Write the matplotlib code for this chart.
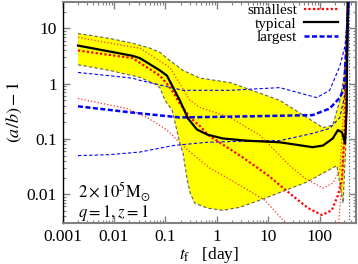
import numpy as np
import matplotlib
matplotlib.use("Agg")
import matplotlib.pyplot as plt
from matplotlib.ticker import FixedLocator, NullFormatter

plt.rcParams['font.family'] = ['Liberation Serif', 'DejaVu Serif']
plt.rcParams['mathtext.fontset'] = 'stix'

# yellow band (typical range), upper and lower edges
band_hi_t = [0.002, 0.0083, 0.023, 0.05, 0.078, 0.123, 0.22, 0.47, 1.8, 16.6, 115, 178, 245, 295, 331, 363]
band_hi_y = [8.1, 6.6, 5.4, 4.4, 3.7, 2.6, 1.74, 1.26, 1.05, 0.50, 0.16, 0.178, 0.50, 1.4, 6.0, 40]
band_lo_t = [0.002, 0.0083, 0.032, 0.063, 0.078, 0.098, 0.135, 0.166, 0.19, 0.22, 0.26, 0.30,
             0.37, 0.65, 1.3, 2.8, 6.8, 16.6, 56, 214, 282, 316, 347, 372]
band_lo_y = [2.2, 1.74, 1.3, 0.98, 0.85, 0.50, 0.33, 0.145, 0.083, 0.055, 0.020, 0.0107,
             0.0069, 0.0056, 0.0051, 0.0058, 0.0078, 0.0107, 0.0166, 0.033, 0.0069, 0.062, 2.6, 40]

# typical
typ_t = [0.002, 0.023, 0.032, 0.078, 0.107, 0.141, 0.19, 0.22, 0.275, 0.41, 0.65, 1.3, 3.8,
         16.6, 72, 115, 178, 224, 269, 309, 331, 347]
typ_y = [4.9, 3.2, 2.9, 1.74, 1.4, 0.85, 0.50, 0.37, 0.234, 0.148, 0.12, 0.102, 0.093,
         0.087, 0.071, 0.076, 0.102, 0.145, 0.132, 0.083, 0.33, 40]

# largest
big_t = [0.002, 0.023, 0.19, 4.4, 72, 155, 245, 295, 331, 363]
big_y = [0.39, 0.30, 0.245, 0.257, 0.27, 0.355, 0.56, 0.83, 6.0, 40]
big_hi_t = [0.002, 0.023, 0.032, 0.22, 1.8, 16.6, 87, 155, 245, 309, 363]
big_hi_y = [1.6, 1.26, 1.15, 0.76, 0.76, 0.85, 0.56, 0.76, 2.1, 4.9, 40]
big_lo_t = [0.002, 0.0083, 0.032, 0.141, 0.65, 6.8, 16.6, 72, 155, 245, 309, 347, 372]
big_lo_y = [0.050, 0.052, 0.058, 0.076, 0.087, 0.093, 0.093, 0.126, 0.155, 0.245, 0.66, 4.0, 40]

# smallest
sml_t = [0.002, 0.023, 0.078, 0.123, 0.19, 0.30, 0.47, 0.68, 3.1, 9.8, 29, 59, 110, 170,
         224, 269, 309, 331, 363]
sml_y = [4.0, 2.9, 1.4, 0.85, 0.44, 0.245, 0.17, 0.117, 0.047, 0.022, 0.0095, 0.0056,
         0.0042, 0.0051, 0.0095, 0.0195, 0.22, 4.0, 40]
sml_hi_t = [0.002, 0.023, 0.032, 0.123, 0.19, 0.30, 0.47, 1.8, 6.8, 26, 51, 115, 178, 245,
            295, 331, 363]
sml_hi_y = [6.9, 4.6, 4.4, 1.95, 1.0, 0.50, 0.37, 0.245, 0.117, 0.033, 0.0195, 0.0129,
            0.0158, 0.027, 0.5, 8.0, 40]
sml_lo_t = [0.002, 0.018, 0.044, 0.107, 0.174, 0.30, 0.72, 2.8, 8.5, 21, 40, 214, 224, 282,
            316, 347]
sml_lo_y = [0.54, 0.355, 0.245, 0.145, 0.093, 0.058, 0.030, 0.0145, 0.0078, 0.0031, 0.001,
            0.001, 0.002, 0.03, 0.5, 40]

xticks = [0.001, 0.01, 0.1, 1, 10, 100]
xtick_labels = ['0.001', '0.01', '0.1', '1', '10', '100']
yticks = [0.01, 0.1, 1, 10]
ytick_labels = ['0.01', '0.1', '1', '10']

fig = plt.figure(figsize=(3.58, 2.64), dpi=100)
ax = fig.add_axes([0.1746, 0.155, 0.8194, 0.837])
ax.set_xscale('log')
ax.set_yscale('log')

poly_t = np.concatenate([band_hi_t, band_lo_t[::-1]])
poly_y = np.concatenate([band_hi_y, band_lo_y[::-1]])
ax.fill(poly_t, poly_y, color='#ffff00', lw=0, zorder=1)
ax.plot(band_hi_t, band_hi_y, color='#606060', ls=(0, (3, 2)), lw=0.8, zorder=2)
ax.plot(band_lo_t, band_lo_y, color='#606060', ls=(0, (3, 2)), lw=0.8, zorder=2)

thin_red = '#ff3030'
ax.plot(sml_hi_t, sml_hi_y, color=thin_red, ls=':', lw=0.9, zorder=3)
ax.plot(sml_lo_t, sml_lo_y, color=thin_red, ls=':', lw=0.9, zorder=3)
ax.plot(big_hi_t, big_hi_y, color='#0000ff', ls=(0, (3, 2)), lw=0.8, zorder=3)
ax.plot(big_lo_t, big_lo_y, color='#0000ff', ls=(0, (3, 2)), lw=0.8, zorder=3)

ax.plot(sml_t, sml_y, color='#ff0000', ls=(0, (1, 1)), lw=1.6, zorder=4, label='smallest')
ax.plot(typ_t, typ_y, color='black', lw=1.6, zorder=5, label='typical')
ax.plot(big_t, big_y, color='#0000ff', ls=(0, (2, 1)), lw=1.8, zorder=4, label='largest')

ax.axvline(370, color='#606060', ls=':', lw=0.9, zorder=2)

ax.set_xlim(0.001, 500)
ax.set_ylim(0.003, 30)

ax.xaxis.set_major_locator(FixedLocator(xticks))
ax.set_xticklabels(xtick_labels)
ax.yaxis.set_major_locator(FixedLocator(yticks))
ax.set_yticklabels(ytick_labels)
minor = [m * 10.0 ** e for e in range(-4, 4) for m in range(2, 10)]
ax.xaxis.set_minor_locator(FixedLocator(minor))
ax.yaxis.set_minor_locator(FixedLocator(minor))
ax.xaxis.set_minor_formatter(NullFormatter())
ax.yaxis.set_minor_formatter(NullFormatter())
ax.tick_params(which='both', direction='in', top=True, right=True, color='#808080',
               labelsize=12.5, pad=4)
ax.tick_params(which='major', length=5, width=1)
ax.tick_params(which='minor', length=2.5, width=0.8)

for side in ['top', 'bottom', 'right']:
    ax.spines[side].set_color('#808080')
    ax.spines[side].set_linewidth(1.5)
ax.spines['left'].set_color('black')
ax.spines['left'].set_linewidth(1.0)

ax.set_ylabel(r'$(a/b)-1$', fontsize=13, labelpad=2)
ax.set_xlabel(r'$t_{\rm f}$   [day]', fontsize=12.5, labelpad=0)

ax.text(0.002, 0.011, r'$2\times10^5{\rm M}_{\odot}$', fontsize=12, va='center', ha='left')
ax.text(0.002, 0.0046, r'$q=1, z=1$', fontsize=12, va='center', ha='left')

leg = ax.legend(loc='upper right', frameon=False, markerfirst=False, fontsize=11,
                handlelength=2.2, labelspacing=0.0, handletextpad=0.5,
                borderaxespad=0.0, bbox_to_anchor=(0.96, 1.022))

fig.savefig('out.png', dpi=100)
